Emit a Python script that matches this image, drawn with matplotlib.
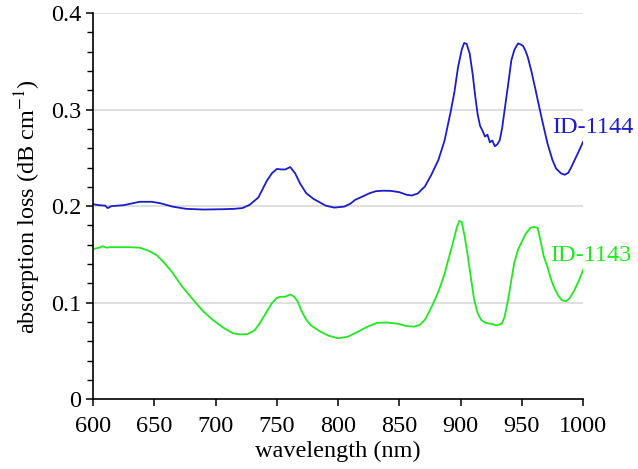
import matplotlib
matplotlib.use('Agg')
import matplotlib.pyplot as plt
from matplotlib.ticker import MultipleLocator, FuncFormatter

# ID-1144 (blue)
wl_1144 = [600, 605, 610, 612, 615, 625, 638, 648, 655, 665, 676, 690, 705, 715, 722,
           728, 735, 742, 746, 750, 754, 757, 761, 765, 769, 774, 780, 785, 790, 797,
           805, 810, 814, 820, 826, 831, 837, 843, 850, 856, 860, 865, 871, 876, 882,
           887, 892, 895, 898, 901, 903, 905, 907.5, 910, 912, 914, 916, 918, 920, 922,
           924, 926, 928, 930, 932, 934, 936, 939, 941.5, 944, 947, 949, 951, 953, 955,
           958, 961, 963, 967, 971, 975, 978, 982, 985, 988, 990.5, 994, 997, 1000]
loss_1144 = [0.202, 0.201, 0.2005, 0.198, 0.200, 0.201, 0.2045, 0.2045, 0.203, 0.1995,
             0.1972, 0.1965, 0.1968, 0.1972, 0.198, 0.2015, 0.209, 0.2265, 0.234, 0.2385,
             0.238, 0.238, 0.2405, 0.234, 0.2235, 0.2135, 0.2075, 0.204, 0.2005, 0.1985,
             0.1995, 0.2025, 0.2065, 0.210, 0.2135, 0.2155, 0.216, 0.2158, 0.2145, 0.2118,
             0.211, 0.213, 0.2205, 0.232, 0.248, 0.268, 0.298, 0.318, 0.344, 0.362,
             0.369, 0.368, 0.358, 0.336, 0.314, 0.295, 0.283, 0.278, 0.272, 0.274,
             0.266, 0.268, 0.262, 0.264, 0.268, 0.281, 0.2995, 0.327, 0.351, 0.362,
             0.3685, 0.3675, 0.366, 0.361, 0.354, 0.339, 0.322, 0.310, 0.287, 0.265,
             0.248, 0.239, 0.234, 0.2325, 0.2345, 0.2405, 0.250, 0.258, 0.2665]

# ID-1143 (green)
wl_1143 = [600, 605, 608, 611, 614, 620, 630, 638, 645, 652, 658, 665, 672, 682, 690,
           698, 706, 714, 720, 726, 732, 736, 741, 746, 750, 753, 757, 761, 764, 767,
           770, 774, 778, 785, 792, 800, 808, 816, 824, 832, 840, 849, 856, 862, 867,
           871, 875, 879, 883, 887, 891, 894, 897, 899, 901, 903.5, 906, 908.8, 911, 914,
           917, 920, 923, 926, 929, 932, 934, 936, 939, 941.5, 944, 947, 950, 953, 957,
           960, 963, 965, 968, 971, 974, 977, 980, 983, 986, 989, 993, 997, 1000]
loss_1143 = [0.1555, 0.157, 0.1585, 0.157, 0.1575, 0.1575, 0.1575, 0.157, 0.154, 0.1493,
             0.1415, 0.131, 0.118, 0.1027, 0.091, 0.082, 0.0745, 0.0685, 0.0672, 0.0675,
             0.0715, 0.0786, 0.089, 0.0995, 0.105, 0.1062, 0.1062, 0.1085, 0.1065, 0.1015,
             0.092, 0.0825, 0.0765, 0.0705, 0.066, 0.0632, 0.0648, 0.0698, 0.0752, 0.0792,
             0.0795, 0.0782, 0.0758, 0.0752, 0.0772, 0.0825, 0.092, 0.1027, 0.115, 0.130,
             0.149, 0.163, 0.178, 0.1848, 0.1835, 0.168, 0.148, 0.1234, 0.104, 0.089,
             0.082, 0.0795, 0.0785, 0.078, 0.0765, 0.0775, 0.079, 0.0855, 0.104, 0.1234,
             0.142, 0.155, 0.163, 0.171, 0.1775, 0.1785, 0.1775, 0.166, 0.148, 0.137,
             0.1238, 0.114, 0.107, 0.1025, 0.1015, 0.1045, 0.113, 0.124, 0.1338]

blue = '#1c1cc8'
green = '#22e622'
fs = 17.5

plt.rcParams['font.family'] = ['Liberation Serif', 'DejaVu Serif']
plt.rcParams['mathtext.fontset'] = 'stix'

fig = plt.figure(figsize=(6.38, 4.69), dpi=100)
ax = fig.add_axes([0.1458, 0.1486, 0.768, 0.8237])

for y in [0.1, 0.2, 0.3, 0.4]:
    ax.axhline(y, color='#d9d9d9', lw=1.2, zorder=0)

ax.plot(wl_1144, loss_1144, color=blue, lw=1.3)
ax.plot(wl_1143, loss_1143, color=green, lw=1.3)

ax.text(975, 0.281, 'ID-1144', color=blue, fontsize=fs, va='center', ha='left', clip_on=False)
ax.text(973, 0.149, 'ID-1143', color=green, fontsize=fs, va='center', ha='left', clip_on=False)

ax.set_xlim(600, 1000)
ax.set_ylim(0, 0.4)
ax.xaxis.set_major_locator(MultipleLocator(50))
ax.yaxis.set_major_locator(MultipleLocator(0.1))
ax.yaxis.set_minor_locator(MultipleLocator(0.02))
ax.yaxis.set_major_formatter(FuncFormatter(lambda v, p: '%g' % round(v, 2)))

for s in ['top', 'right']:
    ax.spines[s].set_visible(False)
for s in ['left', 'bottom']:
    ax.spines[s].set_linewidth(1.2)

ax.tick_params(axis='both', which='major', labelsize=fs, length=5, width=1.1, direction='out')
ax.tick_params(axis='x', which='major', pad=7)
ax.tick_params(axis='y', which='minor', length=4, width=1.0, direction='out')

ax.set_xlabel('wavelength (nm)', fontsize=fs, labelpad=3)
ax.set_ylabel(r'absorption loss (dB cm$^{-1}$)', fontsize=fs, labelpad=6)

fig.savefig('out.png', dpi=100)
